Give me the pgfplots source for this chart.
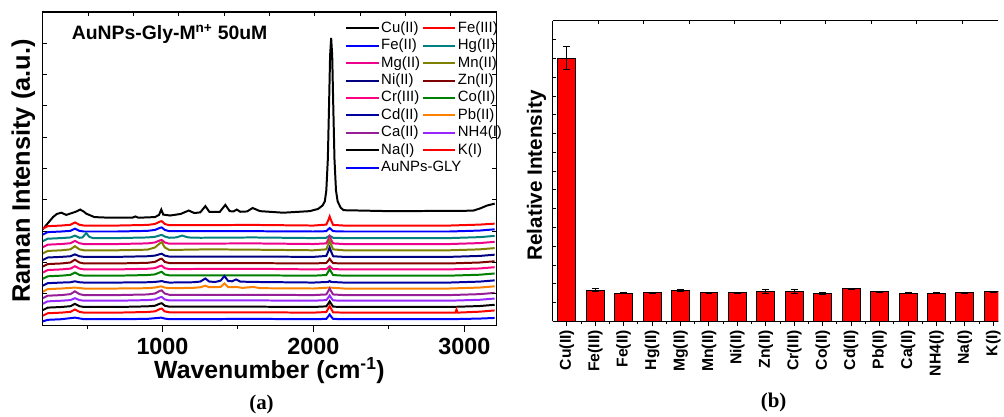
\documentclass[border=0pt]{standalone}
\usepackage{pgfplots}
\pgfplotsset{compat=1.18}
\usepackage{fontspec}
\setmainfont{Liberation Sans}
\newfontfamily\serifpanel{Liberation Serif}
\definecolor{cDarkCyan}{RGB}{0,128,128}
\definecolor{cDarkYellow}{RGB}{128,128,0}
\definecolor{cNavy}{RGB}{0,0,128}
\definecolor{cWine}{RGB}{128,0,0}
\definecolor{cPink}{RGB}{255,0,128}
\definecolor{cGreen}{RGB}{0,128,0}
\definecolor{cRoyal}{RGB}{0,0,160}
\definecolor{cOrange}{RGB}{255,128,0}
\definecolor{cPurple}{RGB}{150,30,150}
\definecolor{cViolet}{RGB}{150,40,255}
\begin{document}
\begin{tikzpicture}
\path (0pt,0pt) rectangle (1004pt,-419pt);
% ---------------- (a) spectra ----------------
\begin{axis}[
  at={(43pt,-327pt)}, anchor=south west,
  scale only axis, width=456pt, height=315pt,
  xmin=207, xmax=3210, ymin=0, ymax=10,
  xtick={1000,2000,3000}, xticklabels={1000,2000,3000},
  minor xtick={500,1500,2500},
  xtick pos=left, ytick=\empty,
  tick align=outside, major tick length=7pt, minor tick length=4pt,
  tick style={black, line width=1pt},
  axis line style={line width=1.2pt},
  xticklabel style={font=\fontsize{23.5}{24}\selectfont\bfseries, anchor=base, yshift=-23pt},
  xlabel={Wavenumber (cm\textsuperscript{-1})},
  xlabel style={at={(axis description cs:0.5,0)}, anchor=base, yshift=-53.7pt, font=\fontsize{25}{25}\selectfont\bfseries},
  ylabel={Raman Intensity (a.u.)},
  ylabel style={at={(axis description cs:-0.0285,0.492)}, anchor=base, font=\fontsize{25.5}{26}\selectfont\bfseries},
  legend columns=2,
  legend image code/.code={\draw[#1, line width=2pt] (0pt,0pt) -- (33pt,0pt);},
  legend style={at={(rel axis cs:0.666,0.976)}, anchor=north west, draw=none, fill=none, inner sep=0pt,
    font=\fontsize{15}{15}\selectfont, column sep=0pt, row sep=0pt,
    nodes={inner xsep=1.5pt, inner ysep=1.75pt, text height=11pt, text depth=3pt},
    cells={anchor=west}},
  every axis plot/.append style={line width=2pt},
]
% Cu(II)
\addplot[black] coordinates {(207,3.06) (240,3.25) (275,3.45) (300,3.55) (330,3.59) (363,3.52) (407,3.59) (430,3.63) (455,3.69) (480,3.62) (495,3.56) (549,3.45) (650,3.43) (800,3.43) (820,3.47) (840,3.43) (950,3.45) (977,3.52) (992,3.69) (1005,3.53) (1050,3.50) (1120,3.55) (1174,3.66) (1210,3.58) (1250,3.60) (1284,3.80) (1310,3.62) (1380,3.62) (1416,3.84) (1445,3.64) (1470,3.63) (1492,3.69) (1515,3.62) (1560,3.63) (1597,3.74) (1646,3.64) (1800,3.59) (1975,3.64) (2030,3.71) (2060,3.82) (2075,3.95) (2085,4.3) (2095,5.3) (2103,7.0) (2110,8.6) (2117,9.17) (2124,8.6) (2131,7.0) (2139,5.3) (2149,4.3) (2160,3.95) (2180,3.75) (2200,3.67) (2500,3.64) (3000,3.65) (3060,3.66) (3100,3.72) (3150,3.82) (3200,3.88)};
\addlegendentry{Cu(II)}
% Fe(III)
\addplot[red] coordinates {(207,3.08) (240,3.16) (330,3.18) (390,3.205) (420,3.28) (450,3.205) (480,3.18) (700,3.18) (900,3.20) (950,3.23) (985,3.31) (995,3.32) (1015,3.23) (1045,3.19) (1600,3.20) (2000,3.18) (2085,3.21) (2098,3.35) (2107,3.47) (2116,3.35) (2130,3.20) (2200,3.18) (2900,3.18) (3100,3.21) (3200,3.24)};
\addlegendentry{Fe(III)}
% Fe(II)
\addplot[blue] coordinates {(207,2.89) (240,2.97) (330,2.99) (390,3.01) (420,3.08) (450,3.01) (480,2.99) (700,2.99) (900,3.01) (950,3.04) (985,3.11) (995,3.12) (1015,3.04) (1045,3.0) (1600,3.0) (2000,2.99) (2085,3.0) (2098,3.06) (2107,3.10) (2116,3.06) (2130,3.0) (2200,2.99) (2900,2.99) (3100,3.02) (3200,3.06)};
\addlegendentry{Fe(II)}
% Hg(II)
\addplot[cDarkCyan] coordinates {(207,2.68) (240,2.76) (330,2.78) (390,2.80) (420,2.86) (450,2.79) (470,2.80) (495,2.94) (515,2.82) (540,2.78) (700,2.78) (900,2.80) (950,2.82) (985,2.87) (995,2.88) (1015,2.83) (1045,2.79) (1090,2.80) (1130,2.86) (1170,2.80) (1250,2.79) (1600,2.80) (2000,2.78) (2085,2.79) (2098,2.83) (2107,2.86) (2116,2.83) (2130,2.79) (2200,2.78) (2900,2.78) (3100,2.81) (3200,2.85)};
\addlegendentry{Hg(II)}
% Mg(II)
\addplot[magenta] coordinates {(207,2.49) (240,2.57) (330,2.59) (390,2.615) (420,2.69) (450,2.615) (480,2.59) (700,2.59) (900,2.61) (950,2.64) (985,2.71) (995,2.72) (1015,2.64) (1045,2.60) (1600,2.61) (2000,2.59) (2085,2.61) (2098,2.73) (2107,2.83) (2116,2.73) (2130,2.61) (2200,2.59) (2900,2.59) (3100,2.62) (3200,2.66)};
\addlegendentry{Mg(II)}
% Mn(II)
\addplot[cDarkYellow] coordinates {(207,2.29) (240,2.37) (330,2.39) (390,2.42) (420,2.52) (450,2.42) (480,2.39) (700,2.39) (900,2.41) (950,2.48) (985,2.62) (995,2.65) (1015,2.48) (1045,2.40) (1300,2.42) (1600,2.41) (2000,2.39) (2085,2.42) (2098,2.58) (2107,2.71) (2116,2.58) (2130,2.42) (2200,2.39) (2900,2.39) (3100,2.42) (3200,2.46)};
\addlegendentry{Mn(II)}
% Ni(II)
\addplot[cNavy] coordinates {(207,2.08) (240,2.16) (330,2.18) (390,2.20) (420,2.26) (450,2.20) (480,2.18) (700,2.18) (900,2.20) (950,2.22) (985,2.27) (995,2.28) (1015,2.22) (1045,2.19) (1600,2.19) (2000,2.18) (2085,2.21) (2098,2.36) (2107,2.48) (2116,2.36) (2130,2.20) (2200,2.18) (2900,2.18) (3100,2.21) (3200,2.25)};
\addlegendentry{Ni(II)}
% Zn(II)
\addplot[cWine] coordinates {(207,1.87) (240,1.95) (330,1.97) (390,2.0) (420,2.09) (450,2.0) (480,1.97) (700,1.97) (900,1.99) (950,2.02) (985,2.11) (995,2.12) (1015,2.02) (1045,1.98) (1600,1.98) (2000,1.97) (2085,1.985) (2098,2.06) (2107,2.12) (2116,2.06) (2130,1.98) (2200,1.97) (2900,1.97) (3100,2.0) (3200,2.04)};
\addlegendentry{Zn(II)}
% Cr(III)
\addplot[cPink] coordinates {(207,1.68) (240,1.76) (330,1.78) (390,1.805) (420,1.88) (450,1.805) (480,1.78) (700,1.78) (900,1.80) (950,1.82) (985,1.89) (995,1.90) (1015,1.82) (1045,1.79) (1600,1.80) (2000,1.78) (2085,1.79) (2098,1.84) (2107,1.88) (2116,1.84) (2130,1.79) (2200,1.78) (2900,1.78) (3100,1.81) (3200,1.85)};
\addlegendentry{Cr(III)}
% Co(II)
\addplot[cGreen] coordinates {(207,1.48) (240,1.56) (330,1.58) (390,1.605) (420,1.68) (450,1.605) (480,1.58) (700,1.58) (900,1.60) (950,1.62) (985,1.69) (995,1.70) (1015,1.62) (1045,1.59) (1600,1.59) (2000,1.58) (2085,1.60) (2098,1.71) (2107,1.79) (2116,1.71) (2130,1.60) (2200,1.58) (2900,1.58) (3100,1.61) (3200,1.65)};
\addlegendentry{Co(II)}
% Cd(II)
\addplot[cRoyal] coordinates {(207,1.26) (240,1.34) (330,1.36) (390,1.37) (420,1.40) (450,1.37) (480,1.36) (700,1.36) (900,1.37) (950,1.38) (985,1.40) (995,1.41) (1015,1.38) (1045,1.36) (1200,1.37) (1250,1.39) (1284,1.49) (1310,1.39) (1350,1.38) (1385,1.42) (1410,1.57) (1435,1.41) (1460,1.40) (1488,1.46) (1515,1.39) (1600,1.38) (2000,1.36) (2098,1.38) (2107,1.41) (2116,1.38) (2200,1.36) (2900,1.36) (3100,1.39) (3200,1.43)};
\addlegendentry{Cd(II)}
% Pb(II)
\addplot[cOrange] coordinates {(207,1.07) (240,1.15) (330,1.17) (420,1.20) (480,1.17) (700,1.17) (900,1.18) (950,1.20) (990,1.24) (1015,1.20) (1045,1.18) (1200,1.19) (1250,1.21) (1284,1.26) (1310,1.21) (1385,1.22) (1410,1.33) (1435,1.21) (1488,1.22) (1530,1.19) (1600,1.22) (1650,1.18) (2000,1.17) (2107,1.20) (2200,1.17) (2900,1.17) (3100,1.20) (3200,1.24)};
\addlegendentry{Pb(II)}
% Ca(II)
\addplot[cPurple] coordinates {(207,0.86) (240,0.94) (330,0.96) (390,0.99) (420,1.08) (450,0.99) (480,0.96) (700,0.96) (900,0.98) (950,1.01) (985,1.10) (995,1.11) (1015,1.01) (1045,0.97) (1600,0.97) (2000,0.96) (2085,0.98) (2098,1.09) (2107,1.17) (2116,1.09) (2130,0.98) (2200,0.96) (2900,0.96) (3100,0.99) (3200,1.03)};
\addlegendentry{Ca(II)}
% NH4(I)
\addplot[cViolet] coordinates {(207,0.68) (240,0.76) (330,0.78) (390,0.80) (420,0.86) (450,0.80) (480,0.78) (700,0.78) (900,0.80) (950,0.82) (985,0.89) (995,0.90) (1015,0.82) (1045,0.79) (1600,0.79) (2000,0.78) (2085,0.80) (2098,0.88) (2107,0.95) (2116,0.88) (2130,0.79) (2200,0.78) (2900,0.78) (3100,0.81) (3200,0.85)};
\addlegendentry{NH4(I)}
% Na(I)
\addplot[black] coordinates {(207,0.48) (240,0.56) (330,0.58) (390,0.605) (420,0.68) (450,0.605) (480,0.58) (700,0.58) (900,0.60) (950,0.62) (985,0.69) (995,0.70) (1015,0.62) (1045,0.59) (1600,0.59) (2000,0.58) (2085,0.60) (2098,0.69) (2107,0.76) (2116,0.69) (2130,0.59) (2200,0.58) (2900,0.58) (3100,0.61) (3200,0.65)};
\addlegendentry{Na(I)}
% K(I)
\addplot[red] coordinates {(207,0.30) (240,0.38) (330,0.40) (390,0.425) (420,0.50) (450,0.425) (480,0.40) (700,0.40) (900,0.42) (950,0.44) (985,0.52) (995,0.53) (1015,0.44) (1045,0.41) (1600,0.41) (2000,0.40) (2085,0.42) (2098,0.53) (2107,0.61) (2116,0.53) (2130,0.41) (2200,0.40) (2940,0.40) (2947,0.50) (2954,0.40) (3100,0.43) (3200,0.47)};
\addlegendentry{K(I)}
% AuNPs-GLY
\addplot[blue] coordinates {(207,0.12) (240,0.17) (330,0.19) (420,0.24) (480,0.19) (700,0.19) (900,0.20) (990,0.24) (1015,0.21) (1045,0.19) (1600,0.20) (2000,0.19) (2085,0.20) (2098,0.28) (2107,0.34) (2116,0.28) (2130,0.20) (2200,0.19) (2900,0.19) (3100,0.21) (3200,0.23)};
\addlegendentry{\makebox[0pt][l]{AuNPs-GLY}}
\end{axis}
% overlay ticks for (a)
\begin{axis}[
  at={(43pt,-327pt)}, anchor=south west,
  scale only axis, width=456pt, height=315pt,
  xmin=0, xmax=10, ymin=0, ymax=10,
  xtick={1,...,9}, xticklabels={}, xtick pos=right,
  ytick={1,...,9}, yticklabels={}, ytick pos=both,
  tick align=inside, major tick length=4pt,
  tick style={black, line width=1pt},
  axis line style={line width=1.2pt},
]
\end{axis}
% ---------------- (b) bars ----------------
\begin{axis}[
  at={(555.7pt,-323.3pt)}, anchor=south west,
  scale only axis, width=448.3pt, height=302.3pt,
  xmin=-0.5, xmax=15.175, ymin=0, ymax=16,
  axis lines*=left,
  xtick={0,...,15},
  xticklabels={Cu(II),Fe(III),Fe(II),Hg(II),Mg(II),Mn(II),Ni(II),Zn(II),Cr(III),Co(II),Cd(II),Pb(II),Ca(II),NH4(I),Na(I),K(I)},
  minor xtick={0.5,1.5,...,14.5},
  ytick=\empty,
  tick align=outside, major tick length=5pt, minor tick length=3pt,
  tick style={black, line width=1pt},
  axis line style={line width=1.2pt},
  xticklabel style={rotate=90, anchor=east, font=\fontsize{15.8}{16}\selectfont\bfseries},
  ylabel={Relative Intensity},
  ylabel style={at={(axis description cs:-0.0239,0.4856)}, anchor=base, font=\fontsize{20.8}{21}\selectfont\bfseries},
]
\addplot[ybar, bar width=18pt, fill=red, draw=black, line width=1pt,
  error bars/.cd, y dir=both, y explicit,
  error bar style={black, line width=1pt},
  error mark options={rotate=90, mark size=3.5pt, black, line width=1pt}]
coordinates {
(0,14.02) +- (0,0.62)
(1,1.66) +- (0,0.09)
(2,1.51) +- (0,0.03)
(3,1.53) +- (0,0.03)
(4,1.64) +- (0,0.06)
(5,1.53) +- (0,0.02)
(6,1.53) +- (0,0.03)
(7,1.59) +- (0,0.11)
(8,1.60) +- (0,0.10)
(9,1.51) +- (0,0.05)
(10,1.75) +- (0,0.03)
(11,1.57) +- (0,0.02)
(12,1.51) +- (0,0.02)
(13,1.51) +- (0,0.03)
(14,1.52) +- (0,0.04)
(15,1.59) +- (0,0.03)
};
\end{axis}
% overlay ticks for (b)
\begin{axis}[
  at={(555.7pt,-323.3pt)}, anchor=south west,
  scale only axis, width=448.3pt, height=302.3pt,
  xmin=0, xmax=9.797, ymin=0, ymax=16,
  axis x line*=top, axis y line*=left,
  xtick={1,...,9}, xticklabels={},
  ytick={1,...,15}, yticklabels={},
  tick align=inside, major tick length=3.5pt,
  tick style={black, line width=1pt},
  axis line style={line width=1.2pt},
]
\end{axis}
% texts
\node[anchor=base west, inner sep=0pt, font=\fontsize{19.5}{20}\selectfont\bfseries] at (72pt,-40pt) {AuNPs-Gly-M\textsuperscript{n+} 50uM};
\node[inner sep=0pt, font=\serifpanel\fontsize{21}{21}\selectfont\bfseries] at (263pt,-407pt) {(a)};
\node[inner sep=0pt, font=\serifpanel\fontsize{21}{21}\selectfont\bfseries] at (778pt,-405pt) {(b)};
\end{tikzpicture}
\end{document}
